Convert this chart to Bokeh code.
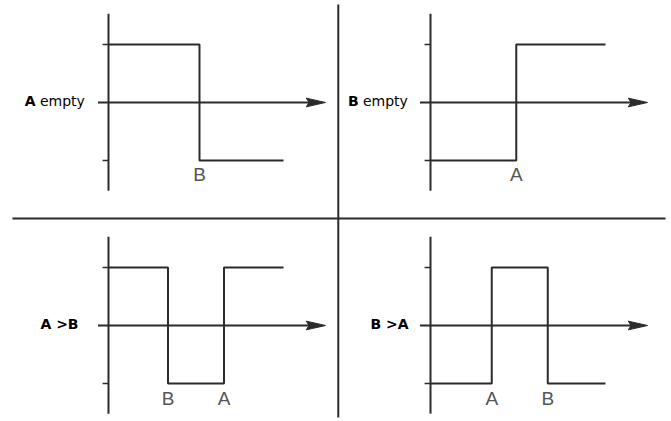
from bokeh.plotting import figure
from bokeh.models import Range1d
from bokeh.embed import file_html
from bokeh.resources import INLINE
from bokeh.core.properties import value

# ---- data ----
panel_names = ["A empty", "B empty", "A >B", "B >A"]
label_bold = ["A", "B", "A >B", "B >A"]
label_rest = ["empty", "empty", "", ""]
start_level = [1, -1, 1, -1]
transition_times = [[5.2], [4.9], [3.4, 6.6], [3.5, 6.7]]
transition_labels = [["B"], ["A"], ["B", "A"], ["A", "B"]]
signal_end = 10.0
levels = [1, -1]

# ---- layout (data units: 1 x unit ~ 17.5 px, 1 y unit ~ 58 px) ----
panel_dx = [0.0, 18.4, 0.0, 18.4]
panel_dy = [0.0, 0.0, -3.845, -3.845]
label_x = [-4.78, -4.72, -3.89, -3.43]
rest_dx = 0.86
axis_x0, axis_x1 = -0.6, 12.4
vaxis_y0, vaxis_y1 = -1.52, 1.53
tick_len = 0.34
arrow_len, arrow_hw = 1.1, 0.075
divider_x = 13.13
divider_y = -2.0

INK = "#2b2b2b"
FONT = value("DejaVu Sans")

p = figure(width=671, height=421, output_backend="svg", toolbar_location=None,
           x_range=Range1d(-6.171, 32.171), y_range=Range1d(-5.5, 1.7586),
           min_border=0)
p.axis.visible = False
p.grid.visible = False
p.outline_line_color = None
p.background_fill_color = "white"

# dividers
p.line([divider_x, divider_x], [-5.43, 1.69], line_color=INK, line_width=2)
p.line([-5.49, 31.83], [divider_y, divider_y], line_color=INK, line_width=2)

for i in range(len(panel_names)):
    dx, dy = panel_dx[i], panel_dy[i]
    # vertical axis
    p.line([dx, dx], [dy + vaxis_y0, dy + vaxis_y1], line_color=INK, line_width=2)
    # ticks
    for lv in levels:
        p.line([dx - tick_len, dx], [dy + lv, dy + lv], line_color=INK, line_width=1.5)
    # horizontal axis with arrow
    p.line([dx + axis_x0, dx + axis_x1 - arrow_len * 0.5], [dy, dy], line_color=INK, line_width=2)
    p.patch([dx + axis_x1, dx + axis_x1 - arrow_len, dx + axis_x1 - arrow_len * 0.85,
             dx + axis_x1 - arrow_len],
            [dy, dy + arrow_hw, dy, dy - arrow_hw], fill_color=INK, line_color=INK, line_width=1)
    # signal
    xs, ys = [0.0], [start_level[i]]
    lv = start_level[i]
    for t in transition_times[i]:
        xs += [t, t]
        ys += [lv, -lv]
        lv = -lv
    xs.append(signal_end)
    ys.append(lv)
    p.line([dx + x for x in xs], [dy + y for y in ys], line_color=INK, line_width=2)
    # transition labels
    p.text([dx + t for t in transition_times[i]], [dy - 1.25] * len(transition_times[i]),
           text=transition_labels[i], text_align="center", text_baseline="middle",
           text_font=value("Liberation Sans"), text_font_size="19px", text_color="#555555")
    # side label
    p.text([dx + label_x[i]], [dy + 0.03], text=[label_bold[i]], text_align="left",
           text_baseline="middle", text_font=FONT, text_font_size="14px",
           text_font_style="bold", text_color="#000000")
    if label_rest[i]:
        p.text([dx + label_x[i] + rest_dx], [dy + 0.03], text=[label_rest[i]], text_align="left",
               text_baseline="middle", text_font=FONT, text_font_size="14px",
               text_color="#000000")

open("out.html", "w").write(file_html(p, INLINE))
